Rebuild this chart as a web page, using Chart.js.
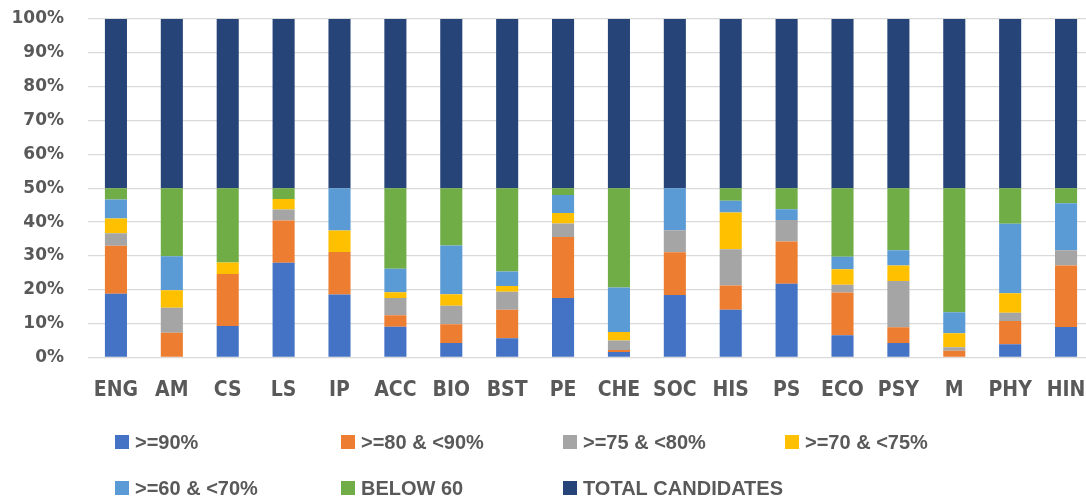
<!DOCTYPE html>
<html>
<head>
<meta charset="utf-8">
<script src="https://cdn.jsdelivr.net/npm/chart.js@4/dist/chart.umd.min.js"></script>
<style>
  html, body { margin: 0; padding: 0; background: #fff; overflow: hidden; }
  #wrap { position: relative; width: 1100px; height: 499px; }
</style>
</head>
<body>
<div id="wrap"><canvas id="c" width="1100" height="499"></canvas></div>
<script>
const categories = ['ENG','AM','CS','LS','IP','ACC','BIO','BST','PE','CHE','SOC','HIS','PS','ECO','PSY','M','PHY','HIN'];
const seriesNames = ['>=90%','>=80 & <90%','>=75 & <80%','>=70 & <75%','>=60 & <70%','BELOW 60','TOTAL CANDIDATES'];
const above90   = [18.8, 0,   9.3, 28.0, 18.6, 9.1, 4.3, 5.7, 17.6, 1.6, 18.5, 14.1, 21.8, 6.6, 4.3, 0,   3.9, 9.0];
const from80to90= [14.2, 7.3, 15.4,12.5, 12.6, 3.4, 5.5, 8.4, 18.0, 0.6, 12.6, 7.2,  12.5, 12.6,4.6, 2.0, 6.9, 18.2];
const from75to80= [3.7,  7.4, 0,   3.2,  0,    5.1, 5.5, 5.3, 4.0,  2.8, 6.5,  10.7, 6.3,  2.3, 13.7,1.0, 2.4, 4.5];
const from70to75= [4.4,  5.2, 3.4, 3.1,  6.3,  1.7, 3.4, 1.7, 3.1,  2.5, 0,    10.8, 0,    4.6, 4.6, 4.2, 5.8, 0];
const from60to70= [5.6,  10.0,0,   0,    12.5, 6.9, 14.4,4.3, 5.3,  13.2,12.4, 3.5,  3.2,  3.7, 4.5, 6.2, 20.5,13.9];
const below60   = [3.3,  20.1,21.9,3.2,  0,    23.8,16.9,24.6,2.0,  29.3,0,    3.7,  6.2,  20.2,18.3,36.6,10.5,4.4];
const totalCand = [50,50,50,50,50,50,50,50,50,50,50,50,50,50,50,50,50,50];
const yTicks = [0,10,20,30,40,50,60,70,80,90,100];
const colors = ['#4472C4','#ED7D31','#A5A5A5','#FFC000','#5B9BD5','#70AD47','#264478'];

const seriesValues = [above90, from80to90, from75to80, from70to75, from60to70, below60, totalCand];
const datasets = seriesValues.map((vals, i) => ({
  label: seriesNames[i],
  data: vals,
  backgroundColor: colors[i],
  borderWidth: 0,
  barPercentage: 1,
  categoryPercentage: 0.395
}));

const txt = '#595959';

const gridLegend = {
  id: 'gridLegend',
  afterDraw(chart) {
    const ctx = chart.ctx;
    const cols = [115, 341, 563, 785];
    const rows = [442, 488];
    ctx.save();
    ctx.font = 'bold 20px "Liberation Sans", Arial, sans-serif';
    ctx.textBaseline = 'middle';
    ctx.textAlign = 'left';
    chart.data.datasets.forEach((ds, i) => {
      const x = cols[i % 4];
      const y = rows[Math.floor(i / 4)];
      ctx.fillStyle = ds.backgroundColor;
      ctx.fillRect(x, y - 7, 14, 14);
      ctx.fillStyle = txt;
      ctx.fillText(ds.label, x + 20, y + 1);
    });
    ctx.restore();
  }
};

new Chart(document.getElementById('c'), {
  type: 'bar',
  data: { labels: categories, datasets },
  plugins: [gridLegend],
  options: {
    responsive: false,
    animation: false,
    layout: { padding: { top: 19, right: 6, left: 0, bottom: 0 } },
    plugins: { legend: { display: false }, tooltip: { enabled: false } },
    scales: {
      x: {
        stacked: true,
        grid: { display: false, drawTicks: false },
        border: { display: false },
        ticks: {
          color: txt,
          padding: 20,
          maxRotation: 0,
          autoSkip: false,
          font: { family: '"Liberation Sans Narrow", "DejaVu Sans Condensed", sans-serif', size: 21, weight: 'bold' }
        },
        afterFit(scale) {
          scale.height = 141.5;
          scale.paddingLeft = 0; scale.paddingRight = 0;
        }
      },
      y: {
        stacked: true,
        min: 0,
        max: 100,
        afterBuildTicks(scale) { scale.ticks = yTicks.map(v => ({ value: v })); },
        grid: { color: '#d9d9d9', lineWidth: 1.3, drawTicks: false },
        border: { display: false },
        ticks: {
          color: txt,
          padding: 24,
          callback: v => v + '%',
          font: { family: '"DejaVu Sans", sans-serif', size: 17, weight: 'bold' }
        },
        afterFit(scale) {
          scale.width = 88;
          scale.paddingTop = 0; scale.paddingBottom = 0;
        }
      }
    }
  }
});
</script>
</body>
</html>
